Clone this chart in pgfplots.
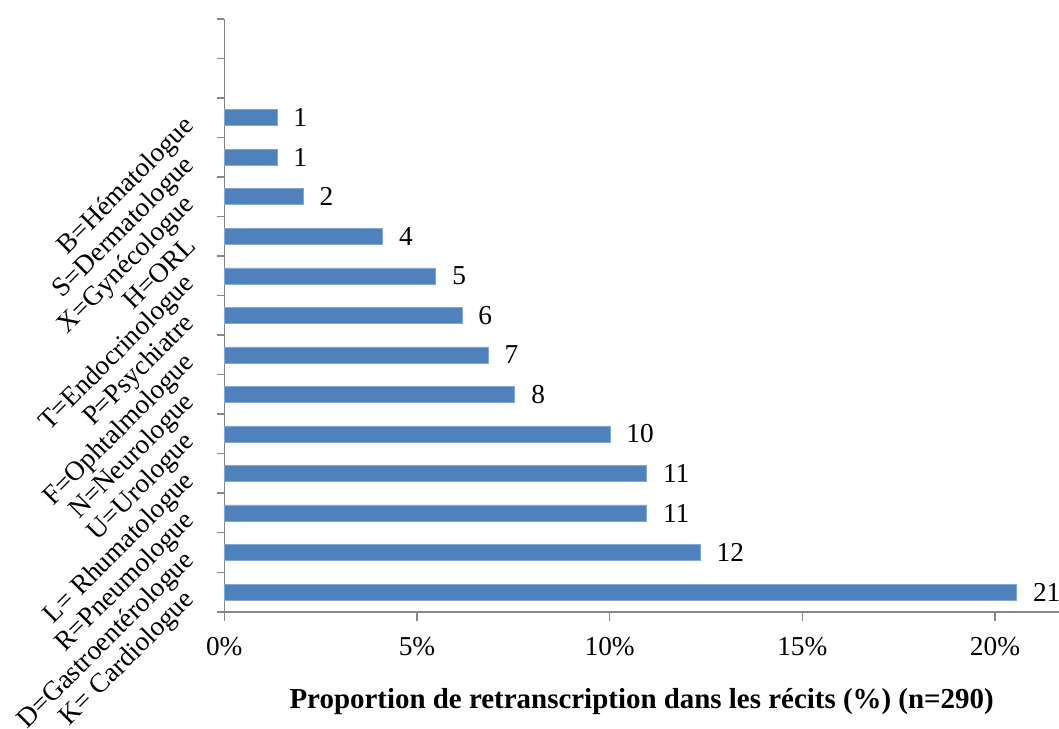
\documentclass[border=0pt]{standalone}
\usepackage{pgfplots}
\pgfplotsset{compat=1.18}
\usepackage{pgfplotstable}
\usepackage{fontspec}
\setmainfont{Liberation Serif}
\definecolor{barblue}{HTML}{4F81BD}
\definecolor{axisgray}{HTML}{868686}
\pgfplotstableread{
y x lab
0 20.56 21
1 12.35 12
2 10.96 11
3 10.96 11
4 10.01 10
5 7.54 8
6 6.85 7
7 6.17 6
8 5.49 5
9 4.11 4
10 2.05 2
11 1.37 1
12 1.37 1
}\data
\begin{document}
\begin{tikzpicture}
\begin{axis}[
  name=ax,
  at={(0,0)}, anchor=south west,
  scale only axis,
  width=626pt, height=444.5pt,
  xmin=0, xmax=21.66,
  ymin=-0.5, ymax=14.5,
  axis x line*=bottom, axis y line*=left,
  axis line style={draw=axisgray, line width=1.1pt, -},
  every outer x axis line/.append style={-},
  every outer y axis line/.append style={-},
  xtick={0,5,10,15,20},
  xticklabels={0\%,5\%,10\%,15\%,20\%},
  ytick={0,...,14},
  yticklabels={K= Cardiologue,D=Gastroentérologue,R=Pneumologue,L= Rhumatologue,U=Urologue,N=Neurologue,F=Ophtalmologue,P=Psychiatre,T=Endocrinologue,H=ORL,X=Gynécologue,S=Dermatologue,B=Hématologue,{},{}},
  minor ytick={-0.5,0.5,...,14.5},
  tick align=outside,
  major tick length=6.8pt,
  minor tick length=5.5pt,
  major y tick style={draw=none},
  minor y tick style={draw=axisgray, line width=1.1pt},
  major x tick style={draw=axisgray, line width=1.1pt},
  every tick label/.append style={font=\fontsize{20.5}{24}\selectfont, text=black},
  xticklabel style={yshift=-9pt},
  yticklabel style={rotate=45, anchor=east, xshift=-12pt, yshift=10.6pt},
  xbar, bar width=12pt,
  point meta=explicit symbolic,
  nodes near coords,
  every node near coord/.append style={anchor=west, inner sep=0pt, xshift=12pt, font=\fontsize{20.5}{24}\selectfont, text=black},
  clip=false,
]
\addplot[fill=barblue, draw=barblue!70!white, line width=0.6pt] table[x=x, y=y, meta=lab] {\data};
\node[anchor=base, font=\bfseries\fontsize{21.7}{26}\selectfont] at ([yshift=-72.2pt]axis description cs:0.5,0) {Proportion de retranscription dans les récits (\%) (n=290)};
\end{axis}
\pgfresetboundingbox
\path[use as bounding box] (-168.2pt,-87.2pt) rectangle (626pt,458.8pt);
\end{tikzpicture}
\end{document}
